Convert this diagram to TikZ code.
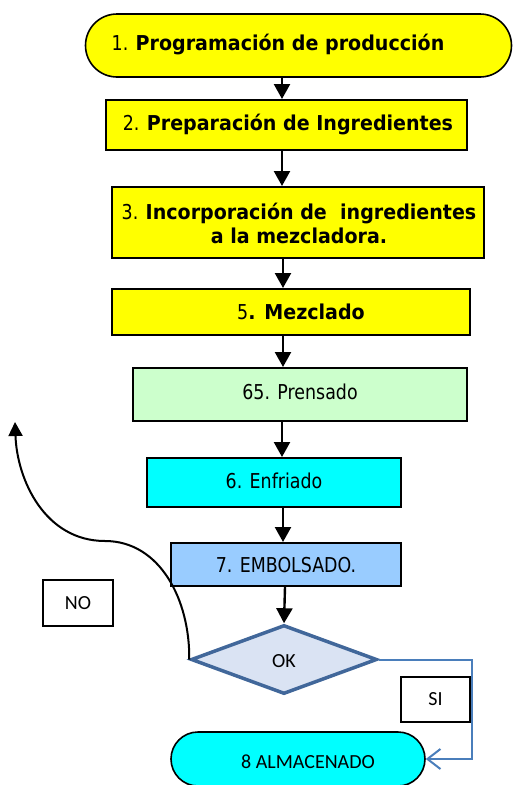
\documentclass[tikz,border=0pt]{standalone}
\usepackage{fontspec}
\setmainfont{DejaVu Sans}[FakeStretch=0.85,BoldFeatures={FakeStretch=0.93}]
\newfontfamily\calfont{Carlito}
\usetikzlibrary{shapes.misc,shapes.geometric,arrows.meta}
\definecolor{ylw}{HTML}{FFFF00}
\definecolor{lgreen}{HTML}{CCFFCC}
\definecolor{cyanb}{HTML}{00FFFF}
\definecolor{lblue}{HTML}{99CCFF}
\definecolor{dfill}{HTML}{DAE3F3}
\definecolor{dborder}{HTML}{41679A}
\definecolor{siline}{HTML}{4A7EBB}
\tikzset{
  box/.style={draw=black, line width=2pt, rectangle, inner sep=0pt},
  stad/.style={draw=black, line width=1.6pt, rounded rectangle, inner sep=0pt},
  lbl/.style={font=\fontsize{20.5}{24}\selectfont, align=center, inner sep=0pt},
  clbl/.style={font=\calfont\fontsize{20}{23}\selectfont, inner sep=0pt},
  arr/.style={line width=2.4pt, -{Triangle[length=15pt,width=16pt]}},
  tagbox/.style={draw=black, line width=1.2pt, rectangle, inner sep=0pt, font=\calfont\fontsize{20}{23}\selectfont},
}
\begin{document}
\begin{tikzpicture}[x=1pt,y=-1pt]
\useasboundingbox (0,0) rectangle (513,785);
% shapes
\node[stad, fill=ylw, minimum width=426pt, minimum height=63pt] (n1) at (298.5,45.5) {};
\node[lbl] (t1) at (278,45) {1. \textbf{Programación de producción}};
\node[box, fill=ylw, minimum width=361pt, minimum height=50pt] (n2) at (286.5,125) {};
\node[lbl] (t2) at (288,125) {2. \textbf{Preparación de Ingredientes}};
\node[box, fill=ylw, minimum width=372pt, minimum height=71pt] (n3) at (298,222.5) {};
\node[lbl] (t3) at (299,223) {3. \textbf{Incorporación de\ \ ingredientes}\\ \textbf{a la mezcladora.}};
\node[box, fill=ylw, minimum width=358pt, minimum height=46pt] (n4) at (291,312) {};
\node[lbl] (t4) at (301,312) {5\textbf{. Mezclado}};
\node[box, fill=lgreen, minimum width=334pt, minimum height=53pt] (n5) at (300,394.5) {};
\node[lbl] (t5) at (300,392) {65. Prensado};
\node[box, fill=cyanb, minimum width=254pt, minimum height=49pt] (n6) at (274,482.5) {};
\node[lbl] (t6) at (274,481) {6. Enfriado};
\node[box, fill=lblue, minimum width=230pt, minimum height=43pt] (n7) at (286,564.5) {};
\node[lbl] (t7) at (286,565) {7. EMBOLSADO.};
\node[diamond, draw=dborder, line width=3.5pt, fill=dfill, aspect=2.65, inner sep=0pt,
      minimum width=186pt, minimum height=69pt] (d) at (284,659.5) {};
\node[clbl] (td) at (284,661) {OK};
\node[stad, fill=cyanb, minimum width=254pt, minimum height=54pt] (alm) at (298,759) {};
\node[clbl] (ta) at (308,762) {8 ALMACENADO};
\node[tagbox, minimum width=70pt, minimum height=46pt] (no) at (78,603) {NO};
\node[tagbox, minimum width=69pt, minimum height=45pt] (si) at (435.5,699.5) {SI};
\coordinate (noend) at (15,422);
% connectors
\draw[arr] (n1.south -| 282,0) -- (n2.north -| 282,0);
\draw[arr] (n2.south -| 282,0) -- (n3.north -| 282,0);
\draw[arr] (n3.south -| 283,0) -- (n4.north -| 283,0);
\draw[arr] (n4.south -| 283,0) -- (n5.north -| 283,0);
\draw[arr] (n5.south -| 282,0) -- (n6.north -| 282,0);
\draw[arr] (n6.south -| 283,0) -- (n7.north -| 283,0);
\draw[arr] (n7.south -| 285,0) -- (d.north);
\draw[line width=2pt, -{Triangle[length=14pt,width=14pt]}]
  (d.west) .. controls (190,600) and (160,541) .. (105,541)
  .. controls (45,541) and (17,480) .. (noend);
\draw[siline, line width=2pt, -{Straight Barb[length=13pt,width=20pt,line width=2pt]}]
  (d.east) -- (472,659.5) |- (alm.east);
\end{tikzpicture}
\end{document}
